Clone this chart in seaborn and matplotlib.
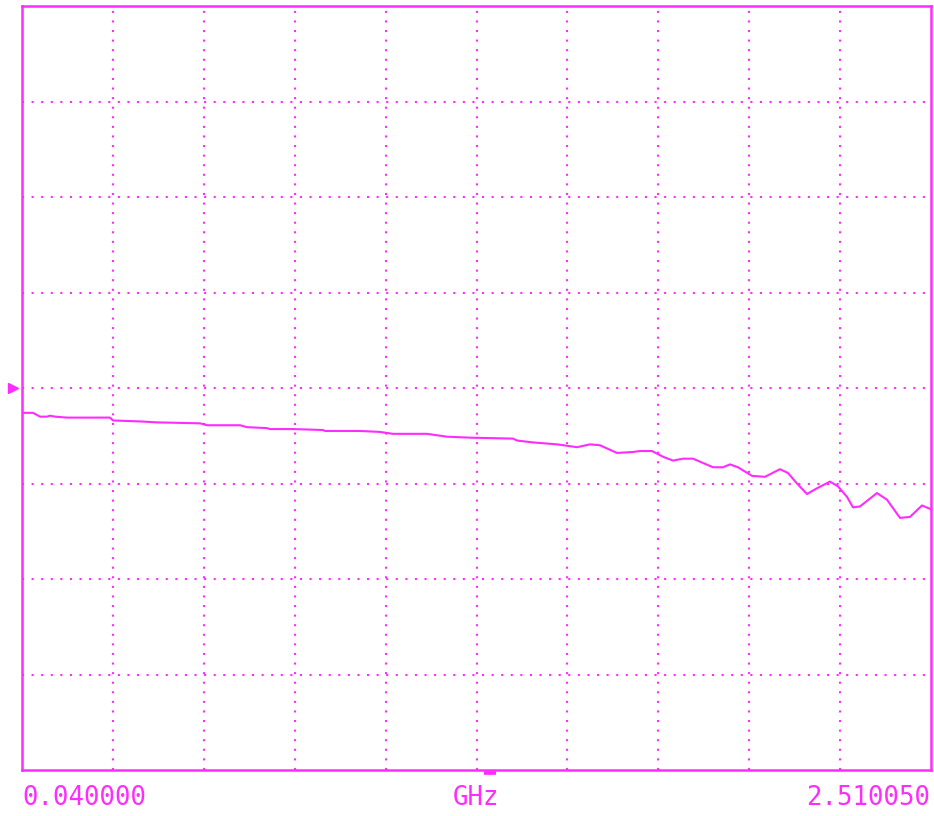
import numpy as np
import pandas as pd
import matplotlib
matplotlib.use("Agg")
import matplotlib.pyplot as plt
import matplotlib.transforms as mtransforms
import seaborn as sns

# --- data (GHz, dB relative to ref line) ---
freq_ghz = [0.0400, 0.0699, 0.0889, 0.1079, 0.1161, 0.1297, 0.1623, 0.2791,
            0.2873, 0.3606, 0.4068, 0.5237, 0.5427, 0.6324, 0.6514, 0.7057,
            0.7139, 0.7764, 0.8579, 0.8633, 0.9584, 1.0128, 1.0481, 1.1405,
            1.1948, 1.2573, 1.3742, 1.3851, 1.4285, 1.4937, 1.5481, 1.5834,
            1.6106, 1.6568, 1.7003, 1.7193, 1.7519, 1.7818, 1.8090, 1.8361,
            1.8633, 1.9177, 1.9448, 1.9638, 1.9856, 2.0236, 2.0590, 2.0997,
            2.1215, 2.1459, 2.1731, 2.2003, 2.2356, 2.2573, 2.2818, 2.2981,
            2.3171, 2.3633, 2.3905, 2.4258, 2.4530, 2.4856, 2.5100]
level_db = [-0.26, -0.26, -0.30, -0.30, -0.29, -0.30, -0.31, -0.31,
            -0.34, -0.35, -0.36, -0.37, -0.39, -0.39, -0.41, -0.42,
            -0.43, -0.43, -0.44, -0.45, -0.45, -0.46, -0.48, -0.48,
            -0.51, -0.52, -0.53, -0.55, -0.57, -0.59, -0.62, -0.59,
            -0.60, -0.68, -0.67, -0.66, -0.66, -0.72, -0.76, -0.74,
            -0.74, -0.83, -0.83, -0.80, -0.83, -0.92, -0.93, -0.85,
            -0.89, -1.00, -1.11, -1.05, -0.98, -1.03, -1.14, -1.25,
            -1.24, -1.10, -1.17, -1.36, -1.35, -1.23, -1.27]

f_start = 0.040000
f_stop = 2.510050
ref_db = 0.0
n_xdiv = 10
n_ydiv = 8
db_per_div = 1.0

df = pd.DataFrame({"freq": freq_ghz, "level": level_db})

col = "#ff2bff"

sns.set_style("white")
fig = plt.figure(figsize=(9.34, 8.16), dpi=100)
ax = fig.add_axes([22 / 934, 46 / 816, 909 / 934, 764 / 816])

sns.lineplot(data=df, x="freq", y="level", ax=ax, color=col, linewidth=1.5)

y_lo = ref_db - n_ydiv / 2 * db_per_div
y_hi = ref_db + n_ydiv / 2 * db_per_div
ax.set_xlim(f_start, f_stop)
ax.set_ylim(y_lo, y_hi)

# graticule (inner lines only, the frame is the spines)
ax.set_xticks(np.linspace(f_start, f_stop, n_xdiv + 1)[1:-1])
ax.set_yticks(np.linspace(y_lo, y_hi, n_ydiv + 1)[1:-1])
ax.grid(True, color=col, linestyle=(0, (1, 3.6)), linewidth=1.5)
ax.tick_params(length=0, labelbottom=False, labelleft=False)
ax.set_xlabel("")
ax.set_ylabel("")
for sp in ax.spines.values():
    sp.set_visible(True)
    sp.set_color(col)
    sp.set_linewidth(1.8)

# reference marker on the left and the small marker below the axis
trans = mtransforms.blended_transform_factory(ax.transAxes, ax.transData)
ax.plot([-0.0095], [ref_db], marker=">", color=col, markersize=7,
        transform=trans, clip_on=False)
ax.plot([0.508, 0.522], [-0.004, -0.004], color=col, linewidth=2.6,
        transform=ax.transAxes, clip_on=False, solid_capstyle="butt")

# annotations under the screen
txt = dict(color=col, fontsize=18.5, family="DejaVu Sans Mono", va="baseline")
ax.text(0.0, -0.046, f"{f_start:.6f}", ha="left", transform=ax.transAxes, **txt)
ax.text(0.5, -0.046, "GHz", ha="center", transform=ax.transAxes, **txt)
ax.text(0.9985, -0.046, f"{f_stop:.6f}", ha="right", transform=ax.transAxes, **txt)

fig.savefig("out.png", dpi=100, facecolor="white")
